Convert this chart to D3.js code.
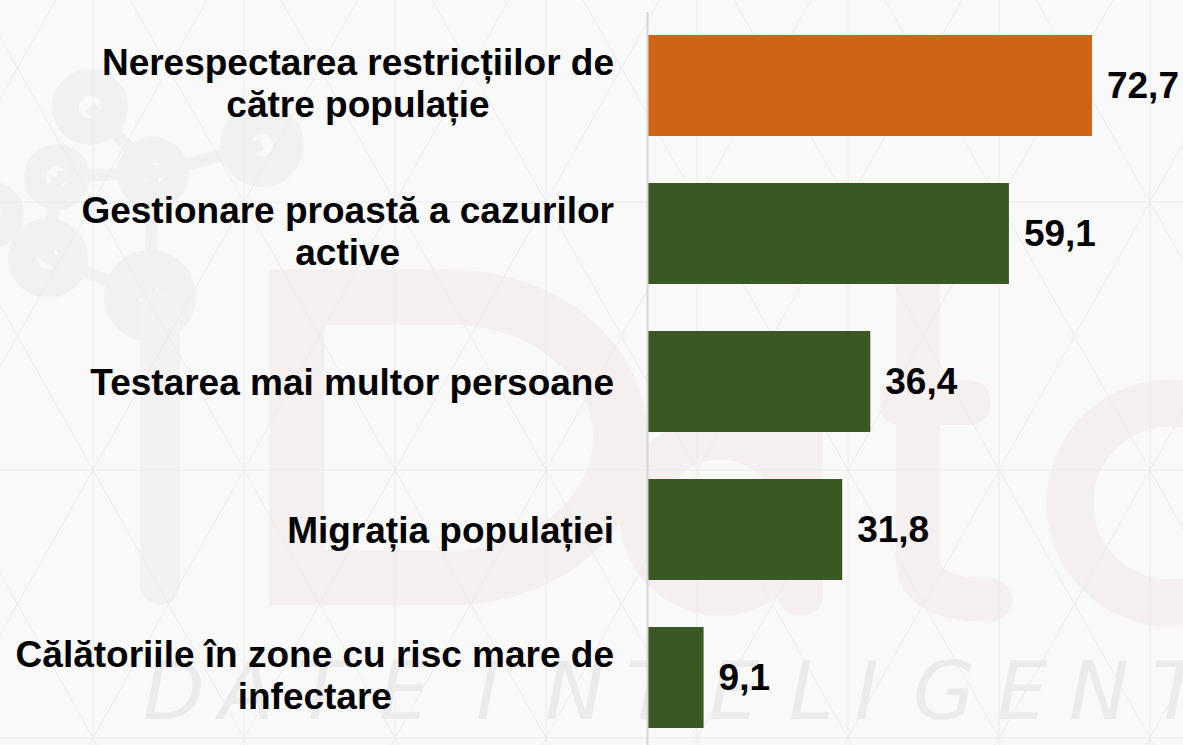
<!DOCTYPE html>
<html>
<head>
<meta charset="utf-8">
<script src="https://cdn.jsdelivr.net/npm/d3@7"></script>
<style>
  body { margin: 0; background: #f9f9f9; }
  svg { display: block; }
</style>
</head>
<body>
<div id="chart"></div>
<script>
// date
const categories = [
  "Nerespectarea restricțiilor de către populație",
  "Gestionare proastă a cazurilor active",
  "Testarea mai multor persoane",
  "Migrația populației",
  "Călătoriile în zone cu risc mare de infectare"
];
const labelLines = [
  ["Nerespectarea restricțiilor de", "către populație"],
  ["Gestionare proastă a cazurilor", "active"],
  ["Testarea mai multor persoane"],
  ["Migrația populației"],
  ["Călătoriile în zone cu risc mare de", "infectare"]
];
const values = [72.7, 59.1, 36.4, 31.8, 9.1];
const barColors = ["#cd6515", "#3a5724", "#3a5724", "#3a5724", "#3a5724"];

// litere din fundal ("DATE INTELIGENT")
const watermarkLetters = ["D", "A", "T", "E", "I", "N", "T", "E", "L", "I", "G", "E", "N", "T"];

const width = 1183, height = 745;
const labelRight = 614;
const fontFamily = "'Liberation Sans', Arial, sans-serif";

const svg = d3.select("#chart").append("svg")
  .attr("width", width)
  .attr("height", height);

svg.append("rect")
  .attr("width", width)
  .attr("height", height)
  .attr("fill", "#f9f9f9");

// ---- fundal: logo si retea de linii ----
const bg = svg.append("g").attr("class", "watermark");

// molecula
const nodes = [[90, 107, 38], [57, 177, 33], [153, 173, 36], [262, 145, 42], [48, 258, 40], [150, 296, 46], [-10, 215, 34]];
const links = [[0, 2], [1, 2], [2, 3], [1, 4], [4, 5], [2, 5], [4, 6]];
bg.selectAll("line.link").data(links).enter().append("line")
  .attr("x1", d => nodes[d[0]][0]).attr("y1", d => nodes[d[0]][1])
  .attr("x2", d => nodes[d[1]][0]).attr("y2", d => nodes[d[1]][1])
  .attr("stroke", "#f3f0f0").attr("stroke-width", 12);
bg.selectAll("circle.node").data(nodes).enter().append("circle")
  .attr("cx", d => d[0]).attr("cy", d => d[1]).attr("r", d => (d[2] + 11) / 2)
  .attr("fill", "none").attr("stroke", "#f2f1f1").attr("stroke-width", d => d[2] - 11);

// litere "iData"
const wm = "#f5efef";
bg.append("rect").attr("x", 140).attr("y", 290).attr("width", 40).attr("height", 315).attr("rx", 20).attr("fill", "#f3f1f1");
bg.append("path")
  .attr("d", "M297,297 H450 A170,140 0 0 1 450,578 H297 Z")
  .attr("fill", "none").attr("stroke", wm).attr("stroke-width", 55);
bg.append("circle").attr("cx", 720).attr("cy", 515).attr("r", 78).attr("fill", "none").attr("stroke", wm).attr("stroke-width", 45);
bg.append("rect").attr("x", 778).attr("y", 415).attr("width", 45).attr("height", 200).attr("rx", 20).attr("fill", wm);
bg.append("path")
  .attr("d", "M918,283 V560 Q918,600 990,600")
  .attr("fill", "none").attr("stroke", wm).attr("stroke-width", 44).attr("stroke-linecap", "round");
bg.append("rect").attr("x", 880).attr("y", 380).attr("width", 110).attr("height", 45).attr("rx", 20).attr("fill", wm);
bg.append("circle").attr("cx", 1170).attr("cy", 503).attr("r", 100).attr("fill", "none").attr("stroke", wm).attr("stroke-width", 47);

// retea triunghiulara
const gx = 151, gy = 268, x0 = 93, y0 = 202;
const grid = bg.append("g").attr("stroke", "#ececec").attr("stroke-width", 1);
for (let i = -1; i < 9; i++) {
  grid.append("line").attr("x1", x0 + i * gx).attr("x2", x0 + i * gx).attr("y1", 0).attr("y2", height);
}
for (let j = -1; j < 3; j++) {
  grid.append("line").attr("x1", 0).attr("x2", width).attr("y1", y0 + j * gy).attr("y2", y0 + j * gy);
}
for (let k = -12; k < 14; k++) {
  const bx = x0 + k * gx;
  grid.append("line").attr("x1", bx - y0 * gx / gy).attr("y1", 0)
    .attr("x2", bx + (height - y0) * gx / gy).attr("y2", height);
  grid.append("line").attr("x1", bx + y0 * gx / gy).attr("y1", 0)
    .attr("x2", bx - (height - y0) * gx / gy).attr("y2", height);
}

// "DATE INTELIGENT"
const letterX = [143, 219, 296, 379, 476, 545, 626, 709, 789, 855, 913, 997, 1069, 1152];
bg.selectAll("text.wm").data(watermarkLetters).enter().append("text")
  .attr("class", "wm")
  .attr("x", (d, i) => letterX[i])
  .attr("y", 719)
  .attr("font-family", "'DejaVu Sans', sans-serif")
  .attr("font-weight", 200)
  .attr("font-style", "italic")
  .attr("font-size", 80)
  .attr("fill", "#ebebeb")
  .text(d => d);

// ---- scale ----
const x = d3.scaleLinear()
  .domain([0, 80])
  .range([648, 648 + 80 * 6.107]);

const y = d3.scaleBand()
  .domain(categories)
  .range([11.5, 751.5])
  .paddingInner(0.3176)
  .paddingOuter(0.1588);

const fmt = d3.formatLocale({ decimal: ",", thousands: ".", grouping: [3], currency: ["", ""] }).format(".1f");

// bare
svg.append("g")
  .selectAll("rect")
  .data(values)
  .enter().append("rect")
  .attr("x", x(0))
  .attr("y", (d, i) => y(categories[i]))
  .attr("width", d => x(d) - x(0))
  .attr("height", y.bandwidth())
  .attr("fill", (d, i) => barColors[i]);

// axa verticala
const axis = svg.append("g")
  .attr("transform", "translate(" + (x(0) - 1) + ",0)")
  .call(d3.axisLeft(y).tickSize(0).tickFormat(""));
axis.select(".domain").attr("stroke", "#d6d6d6").attr("stroke-width", 2);

// etichete categorii
const labels = svg.append("g")
  .selectAll("text")
  .data(labelLines)
  .enter().append("text")
  .attr("text-anchor", "middle")
  .attr("font-family", fontFamily)
  .attr("font-weight", "bold")
  .attr("font-size", 37)
  .attr("fill", "#000");

labels.each(function(lines, i) {
  const t = d3.select(this);
  const cy = y(categories[i]) + y.bandwidth() / 2;
  const first = lines.length === 1 ? cy + 13 : cy - 10.5;
  lines.forEach((ln, k) => {
    t.append("tspan").attr("y", first + k * 42).text(ln);
  });
  let maxW = 0;
  t.selectAll("tspan").each(function() { maxW = Math.max(maxW, this.getComputedTextLength()); });
  t.selectAll("tspan").attr("x", labelRight - maxW / 2);
});

// valori
svg.append("g")
  .selectAll("text")
  .data(values)
  .enter().append("text")
  .attr("x", d => x(d) + 15)
  .attr("y", (d, i) => y(categories[i]) + y.bandwidth() / 2 + 12.5)
  .attr("font-family", fontFamily)
  .attr("font-weight", "bold")
  .attr("font-size", 37)
  .attr("fill", "#000")
  .text(d => fmt(d));
</script>
</body>
</html>
